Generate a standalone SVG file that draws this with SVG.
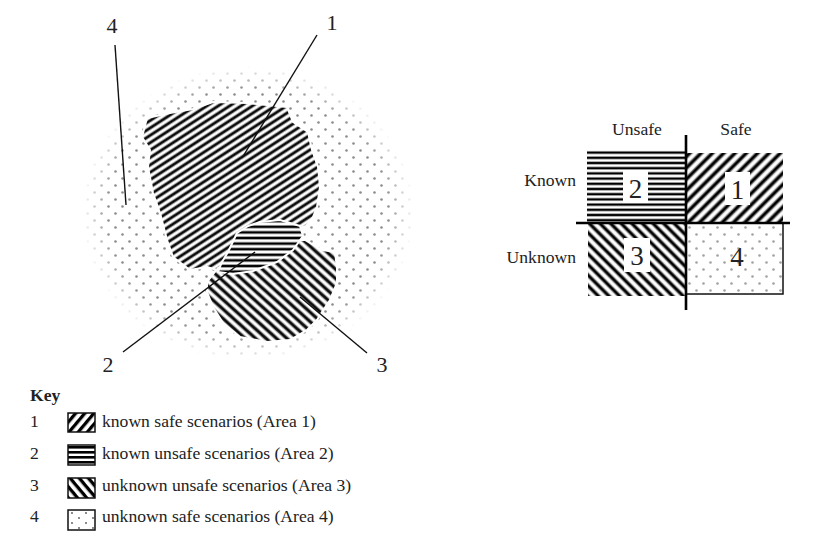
<svg xmlns="http://www.w3.org/2000/svg" width="820" height="559" viewBox="0 0 820 559">
<style>
text{font-family:"Liberation Serif","DejaVu Serif",serif;fill:#222}
.lbl{font-size:22px;text-anchor:middle}
.t{font-size:17.6px}
.num{font-size:27px;text-anchor:middle}
.lead{stroke:#111;stroke-width:1.4;fill:none}
.axis{stroke:#000;stroke-width:2.6}
.box{stroke:#111;stroke-width:1.5}
.blob{stroke:#fff;stroke-width:2;stroke-linejoin:round}
</style>
<defs>
<linearGradient id="sg" x1="0" y1="0" x2="0" y2="1">
<stop offset="0" stop-color="#fff"/><stop offset="0.15" stop-color="#fff"/>
<stop offset="0.4" stop-color="#000"/><stop offset="0.6" stop-color="#000"/>
<stop offset="0.85" stop-color="#fff"/><stop offset="1" stop-color="#fff"/>
</linearGradient>
<pattern id="p1" width="10" height="6.2" patternUnits="userSpaceOnUse" patternTransform="rotate(-33)"><rect width="10" height="6.2" fill="url(#sg)"/></pattern>
<pattern id="p2" width="10" height="5.6" patternUnits="userSpaceOnUse"><rect width="10" height="5.6" fill="url(#sg)"/></pattern>
<pattern id="p3" width="10" height="7" patternUnits="userSpaceOnUse" patternTransform="rotate(42)"><rect width="10" height="7" fill="url(#sg)"/></pattern>
<pattern id="t1" width="10" height="8" patternUnits="userSpaceOnUse" patternTransform="rotate(-45)"><rect width="10" height="8" fill="url(#sg)"/></pattern>
<pattern id="t2" width="10" height="5.2" patternUnits="userSpaceOnUse" patternTransform="translate(0,150)"><rect width="10" height="5.2" fill="url(#sg)"/></pattern>
<pattern id="t3" width="10" height="7.5" patternUnits="userSpaceOnUse" patternTransform="rotate(45)"><rect width="10" height="7.5" fill="url(#sg)"/></pattern>
<pattern id="k1" width="10" height="7" patternUnits="userSpaceOnUse" patternTransform="rotate(-50)"><rect width="10" height="3.3" fill="#000"/></pattern>
<pattern id="k2" width="10" height="5" patternUnits="userSpaceOnUse" patternTransform="translate(0,446)"><rect width="10" height="2.6" fill="#000"/></pattern>
<pattern id="k3" width="10" height="7" patternUnits="userSpaceOnUse" patternTransform="rotate(50)"><rect width="10" height="3.3" fill="#000"/></pattern>
<pattern id="dots" width="14" height="14" patternUnits="userSpaceOnUse">
<circle cx="3.5" cy="3.5" r="1.3" fill="#8a8a8a"/><circle cx="10.5" cy="10.5" r="1.3" fill="#8a8a8a"/>
</pattern>
<pattern id="kdots" width="14" height="10" patternUnits="userSpaceOnUse" patternTransform="translate(68,510)">
<circle cx="4" cy="3" r="0.9" fill="#555"/><circle cx="11" cy="8" r="0.9" fill="#555"/>
</pattern>
<radialGradient id="fade" cx="0.5" cy="0.5" r="0.5">
<stop offset="0.84" stop-color="#fff"/><stop offset="1" stop-color="#000"/>
</radialGradient>
<mask id="m"><ellipse cx="248" cy="213" rx="166" ry="147" fill="url(#fade)"/></mask>
</defs>
<rect width="820" height="559" fill="#fff"/>

<g id="area4-region">
<ellipse cx="248" cy="213" rx="166" ry="147" fill="url(#dots)" mask="url(#m)"/>
</g>
<g id="area1-region">
<path class="blob" fill="url(#p1)" d="M142,137 L147,118 L170,113 L193,109 L213,102 L247,103 L287,107 L293,122 L308,132 L312,150 L318,167 L320,187 L317,207 L313,217 L306,226 L280,235 L245,252 L217,270 L207,267 L190,270 L173,257 L167,240 L160,213 L153,193 L148,167 L150,150 Z"/>
</g>
<g id="area3-region">
<path class="blob" fill="url(#p3)" d="M207,282 L218,268 L250,255 L290,240 L305,240 L322,250 L335,252 L337,268 L337,283 L330,300 L322,312 L317,320 L307,330 L290,340 L267,342 L240,337 L223,323 L213,307 L207,292 Z"/>
</g>
<g id="area2-region">
<path class="blob" fill="url(#p2)" d="M237,233 L248,226 L260,222 L280,220 L300,226 L303,236 L293,250 L277,262 L253,271 L233,274 L218,272 L222,262 L228,252 Z"/>
</g>

<g id="connectors">
<line class="lead" x1="115" y1="45" x2="126" y2="205"/>
<line class="lead" x1="317" y1="35" x2="242" y2="158"/>
<line class="lead" x1="123" y1="352" x2="255" y2="252"/>
<line class="lead" x1="367" y1="353" x2="300" y2="297"/>
</g>

<g id="callouts">
<text class="lbl" x="112" y="33">4</text>
<text class="lbl" x="332" y="30">1</text>
<text class="lbl" x="108" y="372">2</text>
<text class="lbl" x="382" y="372">3</text>
</g>

<g id="matrix">
<g id="cell2">
<rect x="587" y="150" width="99" height="73" fill="url(#t2)"/>
<rect x="623" y="170" width="25" height="33" fill="#fff"/>
<text class="num" x="635.5" y="198">2</text>
</g>
<g id="cell1">
<rect x="686" y="153" width="97" height="70" fill="url(#t1)"/>
<rect x="725" y="172" width="25" height="33" fill="#fff"/>
<text class="num" x="737.5" y="199">1</text>
</g>
<g id="cell3">
<rect x="588" y="223" width="98" height="73" fill="url(#t3)"/>
<rect x="624" y="238" width="26" height="34" fill="#fff"/>
<text class="num" x="637" y="265">3</text>
</g>
<g id="cell4">
<rect x="686" y="223" width="97" height="71" fill="#fff" class="box"/>
<rect x="687" y="224" width="95" height="69" fill="url(#dots)" opacity="0.8"/>
<text class="num" x="737" y="266">4</text>
</g>
<line class="axis" x1="686" y1="135" x2="686" y2="310"/>
<line class="axis" x1="576" y1="223" x2="790" y2="223"/>
<text class="t" x="637" y="135" text-anchor="middle">Unsafe</text>
<text class="t" x="736" y="135" text-anchor="middle">Safe</text>
<text class="t" x="576" y="186" text-anchor="end">Known</text>
<text class="t" x="576" y="263" text-anchor="end">Unknown</text>
</g>

<g id="key">
<text class="t" x="30" y="401" font-weight="bold">Key</text>
<g id="key1">
<text class="t" x="30" y="427">1</text>
<rect class="box" x="68" y="413" width="27" height="19" fill="url(#k1)"/>
<text class="t" x="102" y="427">known safe scenarios (Area 1)</text>
</g>
<g id="key2">
<text class="t" x="30" y="459">2</text>
<rect class="box" x="68" y="445" width="27" height="20" fill="url(#k2)"/>
<text class="t" x="102" y="459">known unsafe scenarios (Area 2)</text>
</g>
<g id="key3">
<text class="t" x="30" y="491">3</text>
<rect class="box" x="68" y="478" width="27" height="20" fill="url(#k3)"/>
<text class="t" x="102" y="491">unknown unsafe scenarios (Area 3)</text>
</g>
<g id="key4">
<text class="t" x="30" y="522">4</text>
<rect class="box" x="68" y="510" width="27" height="20" fill="url(#kdots)"/>
<text class="t" x="102" y="522">unknown safe scenarios (Area 4)</text>
</g>
</g>
</svg>
